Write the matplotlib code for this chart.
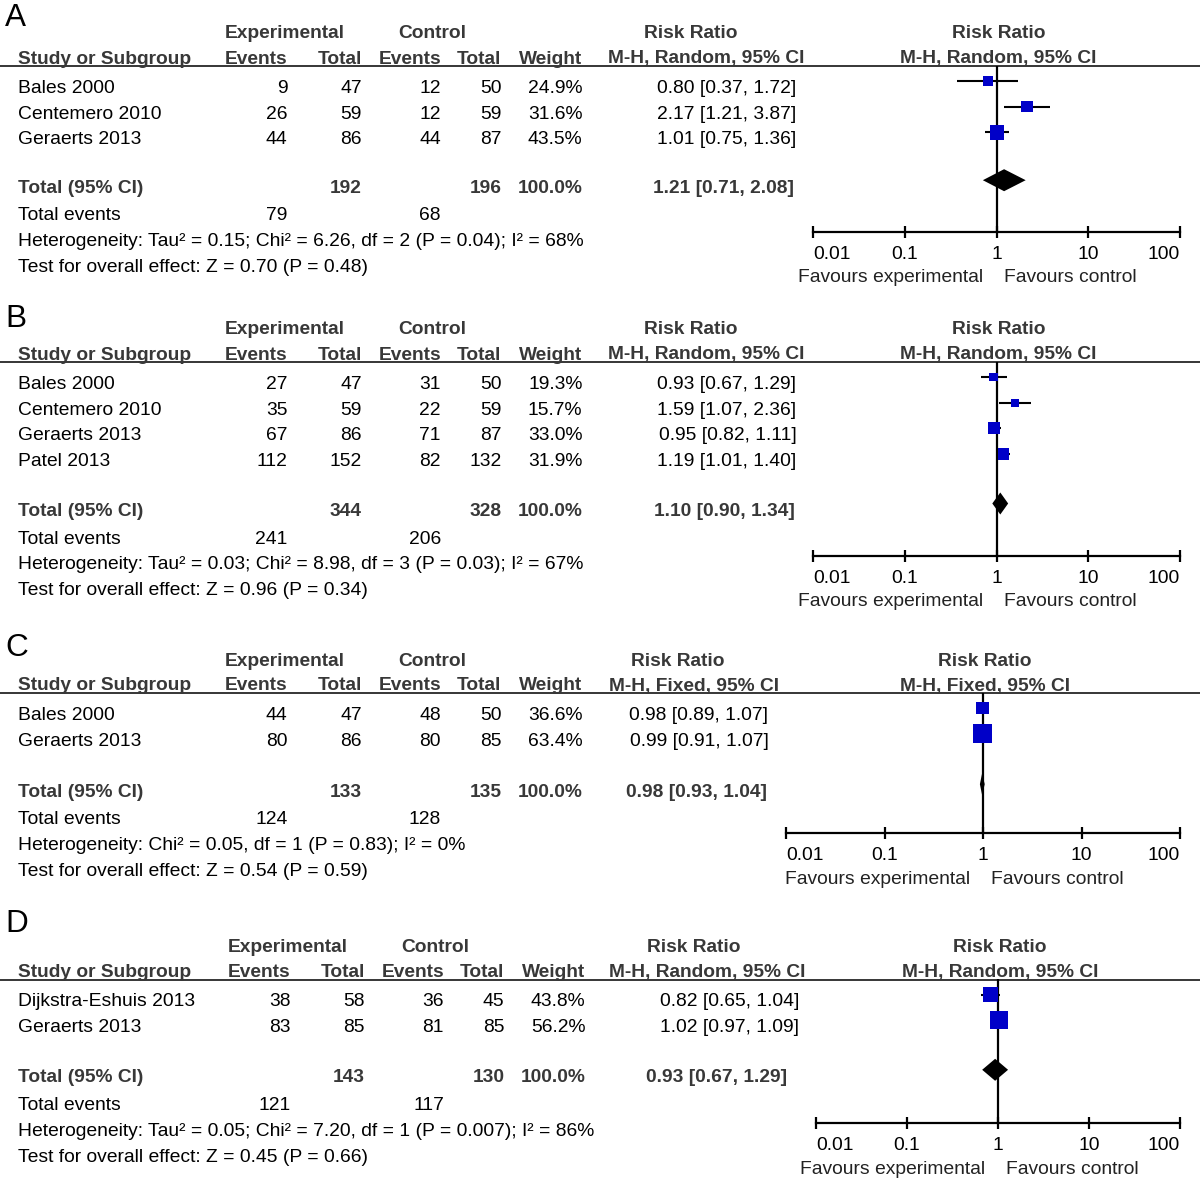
import matplotlib
matplotlib.use("Agg")
import matplotlib.pyplot as plt

plt.rcParams["font.family"] = ["Liberation Sans", "DejaVu Sans"]

# ---------------- data ----------------
a_studies = ["Bales 2000", "Centemero 2010", "Geraerts 2013"]
a_exp_events = [9, 26, 44]
a_exp_total = [47, 59, 86]
a_ctrl_events = [12, 12, 44]
a_ctrl_total = [50, 59, 87]
a_weight = [24.9, 31.6, 43.5]
a_rr = [0.80, 2.17, 1.01]
a_lo = [0.37, 1.21, 0.75]
a_hi = [1.72, 3.87, 1.36]
a_pooled = [1.21, 0.71, 2.08]
a_sum_total = [192, 196]
a_sum_events = [79, 68]
a_het = "Heterogeneity: Tau² = 0.15; Chi² = 6.26, df = 2 (P = 0.04); I² = 68%"
a_test = "Test for overall effect: Z = 0.70 (P = 0.48)"
a_method = "M-H, Random, 95% CI"

b_studies = ["Bales 2000", "Centemero 2010", "Geraerts 2013", "Patel 2013"]
b_exp_events = [27, 35, 67, 112]
b_exp_total = [47, 59, 86, 152]
b_ctrl_events = [31, 22, 71, 82]
b_ctrl_total = [50, 59, 87, 132]
b_weight = [19.3, 15.7, 33.0, 31.9]
b_rr = [0.93, 1.59, 0.95, 1.19]
b_lo = [0.67, 1.07, 0.82, 1.01]
b_hi = [1.29, 2.36, 1.11, 1.40]
b_pooled = [1.10, 0.90, 1.34]
b_sum_total = [344, 328]
b_sum_events = [241, 206]
b_het = "Heterogeneity: Tau² = 0.03; Chi² = 8.98, df = 3 (P = 0.03); I² = 67%"
b_test = "Test for overall effect: Z = 0.96 (P = 0.34)"
b_method = "M-H, Random, 95% CI"

c_studies = ["Bales 2000", "Geraerts 2013"]
c_exp_events = [44, 80]
c_exp_total = [47, 86]
c_ctrl_events = [48, 80]
c_ctrl_total = [50, 85]
c_weight = [36.6, 63.4]
c_rr = [0.98, 0.99]
c_lo = [0.89, 0.91]
c_hi = [1.07, 1.07]
c_pooled = [0.98, 0.93, 1.04]
c_sum_total = [133, 135]
c_sum_events = [124, 128]
c_het = "Heterogeneity: Chi² = 0.05, df = 1 (P = 0.83); I² = 0%"
c_test = "Test for overall effect: Z = 0.54 (P = 0.59)"
c_method = "M-H, Fixed, 95% CI"

d_studies = ["Dijkstra-Eshuis 2013", "Geraerts 2013"]
d_exp_events = [38, 83]
d_exp_total = [58, 85]
d_ctrl_events = [36, 81]
d_ctrl_total = [45, 85]
d_weight = [43.8, 56.2]
d_rr = [0.82, 1.02]
d_lo = [0.65, 0.97]
d_hi = [1.04, 1.09]
d_pooled = [0.93, 0.67, 1.29]
d_sum_total = [143, 130]
d_sum_events = [121, 117]
d_het = "Heterogeneity: Tau² = 0.05; Chi² = 7.20, df = 1 (P = 0.007); I² = 86%"
d_test = "Test for overall effect: Z = 0.45 (P = 0.66)"
d_method = "M-H, Random, 95% CI"

axis_ticks = [0.01, 0.1, 1, 10, 100]
axis_labels = ["0.01", "0.1", "1", "10", "100"]

# ---------------- figure ----------------
W, H = 1200, 1178
fig = plt.figure(figsize=(W / 100, H / 100), dpi=100)
bg = fig.add_axes([0, 0, 1, 1])
bg.set_xlim(0, W)
bg.set_ylim(H, 0)
bg.axis("off")

FS = 13.9
FS_B = 13.75
HEAD = "#383838"
BLUE = "#0000C8"
PX2PT = 0.72


def txt(x, y, s, ha="left", bold=False, color="black", size=None):
    if size is None:
        size = FS_B if bold else FS
    bg.text(x, y, s, ha=ha, va="baseline", fontsize=size,
            fontweight="bold" if bold else "normal", color=color)


def panel(letter, studies, ee, et, ce, ct, wt, rr, lo, hi, pooled,
          sum_total, sum_events, het, test, method, lay):
    hline = lay["hline"]
    sh = lay["shift"]
    col_ee, col_et, col_ce, col_ct, col_w = (287.5 + sh, 362 + sh, 441 + sh,
                                             501.3 + sh, 582.5 + sh)
    px0, px1 = lay["px"]
    mid = (px0 + px1) / 2

    txt(5, lay["letter"], letter, size=22.7)

    # headers
    h1 = hline - 27.5
    h2 = hline - 2.5
    txt(285 + sh, h1, "Experimental", ha="center", bold=True, color=HEAD)
    txt(432.5 + sh, h1, "Control", ha="center", bold=True, color=HEAD)
    txt(lay["rr_h1"], h1, "Risk Ratio", ha="center", bold=True, color=HEAD)
    txt(mid + 2, h1, "Risk Ratio", ha="center", bold=True, color=HEAD)
    txt(18.4, h2, "Study or Subgroup", bold=True, color=HEAD)
    txt(col_ee, h2, "Events", ha="right", bold=True, color=HEAD)
    txt(col_et, h2, "Total", ha="right", bold=True, color=HEAD)
    txt(col_ce, h2, "Events", ha="right", bold=True, color=HEAD)
    txt(col_ct, h2, "Total", ha="right", bold=True, color=HEAD)
    txt(col_w, h2, "Weight", ha="right", bold=True, color=HEAD)
    txt(lay["rr_h2"], h2, method, ha="center", bold=True, color=HEAD)
    txt(mid + 2, h2, method, ha="center", bold=True, color=HEAD)
    bg.plot([0, W], [hline, hline], color="black", lw=1.1)

    # study rows
    rows = [hline + 27 + 25.6 * i for i in range(len(studies))]
    for i, y in enumerate(rows):
        txt(18.4, y, studies[i])
        txt(col_ee, y, str(ee[i]), ha="right")
        txt(col_et, y, str(et[i]), ha="right")
        txt(col_ce, y, str(ce[i]), ha="right")
        txt(col_ct, y, str(ct[i]), ha="right")
        txt(col_w, y, f"{wt[i]:.1f}%", ha="right")
        txt(lay["rr_r"], y, f"{rr[i]:.2f} [{lo[i]:.2f}, {hi[i]:.2f}]", ha="right")

    ty = lay["total"]
    txt(18.4, ty, "Total (95% CI)", bold=True, color=HEAD)
    txt(col_et, ty, str(sum_total[0]), ha="right", bold=True, color=HEAD)
    txt(col_ct, ty, str(sum_total[1]), ha="right", bold=True, color=HEAD)
    txt(col_w, ty, "100.0%", ha="right", bold=True, color=HEAD)
    txt(lay["rr_tot"], ty, f"{pooled[0]:.2f} [{pooled[1]:.2f}, {pooled[2]:.2f}]",
        ha="right", bold=True, color=HEAD)
    ey = ty + 27.6
    txt(18.4, ey, "Total events")
    txt(col_ee, ey, str(sum_events[0]), ha="right")
    txt(col_ce, ey, str(sum_events[1]), ha="right")
    txt(18.4, ey + 25.8, het)
    txt(18.4, ey + 51.8, test)

    # forest plot
    ay = lay["axis"]
    fx = fig.add_axes([px0 / W, 1 - ay / H, (px1 - px0) / W, (ay - hline) / H])
    fx.set_xscale("log")
    fx.set_xlim(0.01, 100)
    fx.set_ylim(ay, hline)
    fx.patch.set_visible(False)
    for s in ("top", "right", "left"):
        fx.spines[s].set_visible(False)
    fx.spines["bottom"].set_linewidth(1.6)
    fx.set_yticks([])
    fx.set_xticks(axis_ticks, axis_labels)
    fx.minorticks_off()
    fx.tick_params(axis="x", direction="inout", length=8, width=1.6,
                   pad=6, labelsize=FS)
    tl = fx.get_xticklabels()
    tl[0].set_ha("left")
    tl[-1].set_ha("right")
    fx.axvline(1, color="black", lw=1.6, zorder=1)

    ys = [y - 12 for y in rows]
    fx.hlines(ys, lo, hi, color="black", lw=1.5, zorder=2, clip_on=False)
    sizes = [((4 + 0.245 * w) * PX2PT) ** 2 for w in wt]
    fx.scatter(rr, ys, s=sizes, marker="s", color=BLUE, linewidths=0,
               zorder=3, clip_on=False)
    dy = ty - 12.5
    fx.fill([pooled[1], pooled[0], pooled[2], pooled[0]],
            [dy, dy - 11, dy, dy + 11], color="black", lw=0, zorder=3,
            clip_on=False)

    fy = ay + 50.5
    txt(mid - 13, fy, "Favours experimental", ha="right", color="#222222")
    txt(mid + 8, fy, "Favours control", color="#222222")


panel("A", a_studies, a_exp_events, a_exp_total, a_ctrl_events, a_ctrl_total,
      a_weight, a_rr, a_lo, a_hi, a_pooled, a_sum_total, a_sum_events,
      a_het, a_test, a_method,
      dict(letter=26, hline=66, total=192.7, axis=232, shift=0, rr_r=796.3,
           rr_tot=794.4, rr_h1=690.5, rr_h2=706, px=(813, 1180)))
panel("B", b_studies, b_exp_events, b_exp_total, b_ctrl_events, b_ctrl_total,
      b_weight, b_rr, b_lo, b_hi, b_pooled, b_sum_total, b_sum_events,
      b_het, b_test, b_method,
      dict(letter=327, hline=362, total=516, axis=556, shift=0, rr_r=796.3,
           rr_tot=794.4, rr_h1=690.5, rr_h2=706.5, px=(813, 1180)))
panel("C", c_studies, c_exp_events, c_exp_total, c_ctrl_events, c_ctrl_total,
      c_weight, c_rr, c_lo, c_hi, c_pooled, c_sum_total, c_sum_events,
      c_het, c_test, c_method,
      dict(letter=656, hline=693, total=796.7, axis=833, shift=0, rr_r=768.4,
           rr_tot=767.2, rr_h1=677.5, rr_h2=694, px=(786, 1180)))
panel("D", d_studies, d_exp_events, d_exp_total, d_ctrl_events, d_ctrl_total,
      d_weight, d_rr, d_lo, d_hi, d_pooled, d_sum_total, d_sum_events,
      d_het, d_test, d_method,
      dict(letter=932, hline=979.5, total=1082.3, axis=1123, shift=3, rr_r=799,
           rr_tot=787.5, rr_h1=693.6, rr_h2=706.8, px=(816, 1180)))

fig.savefig("out.png", dpi=100)
